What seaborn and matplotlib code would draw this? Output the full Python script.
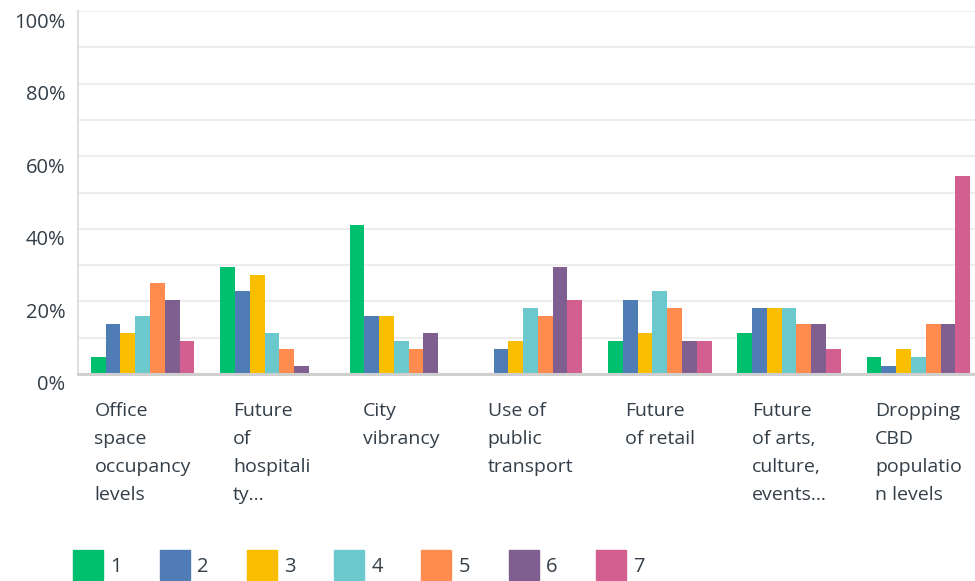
import numpy as np
import pandas as pd
import seaborn as sns
import matplotlib.pyplot as plt
from matplotlib.lines import Line2D
from matplotlib.transforms import ScaledTranslation

categories = ["Office\nspace\noccupancy\nlevels", "Future\nof\nhospitali\nty...", "City\nvibrancy",
              "Use of\npublic\ntransport", "Future\nof retail", "Future\nof arts,\nculture,\nevents...",
              "Dropping\nCBD\npopulatio\nn levels"]
ranks = ["1", "2", "3", "4", "5", "6", "7"]
rank1 = [4.55, 29.55, 40.91, 0.00, 9.09, 11.36, 4.55]
rank2 = [13.64, 22.73, 15.91, 6.82, 20.45, 18.18, 2.27]
rank3 = [11.36, 27.27, 15.91, 9.09, 11.36, 18.18, 6.82]
rank4 = [15.91, 11.36, 9.09, 18.18, 22.73, 18.18, 4.55]
rank5 = [25.00, 6.82, 6.82, 15.91, 18.18, 13.64, 13.64]
rank6 = [20.45, 2.27, 11.36, 29.55, 9.09, 13.64, 13.64]
rank7 = [9.09, 0.00, 0.00, 20.45, 9.09, 6.82, 54.55]
colors = ["#00bf6f", "#507cb6", "#f9be00", "#6bc8cd", "#ff8b4f", "#7f5f90", "#d25f90"]

series = [rank1, rank2, rank3, rank4, rank5, rank6, rank7]
rows = []
for r, vals in zip(ranks, series):
    for c, v in zip(categories, vals):
        rows.append({"category": c, "rank": r, "value": v})
df = pd.DataFrame(rows)

sns.set_theme(style="white")
plt.rcParams['font.family'] = ['Open Sans', 'DejaVu Sans']
text_color = "#333e48"

fig = plt.figure(figsize=(9.75, 5.81), dpi=100)
ax = fig.add_axes([78 / 975, 1 - 374 / 581, 905 / 975, 363 / 581])

sns.barplot(data=df, x="category", y="value", hue="rank", order=categories,
            hue_order=ranks, palette=colors, width=0.8, saturation=1,
            linewidth=0, ax=ax, legend=False)

ax.set_xlim(-0.5, 6.5)
ax.set_ylim(0, 100)
ax.set_yticks([0, 20, 40, 60, 80, 100])
ax.set_yticks([10, 30, 50, 70, 90], minor=True)
ax.set_yticklabels(["0%", "20%", "40%", "60%", "80%", "100%"])
ax.grid(True, axis="y", which="both", color="#ededed", linewidth=1.5, zorder=0)
ax.set_axisbelow(True)
ax.set_xlabel("")
ax.set_ylabel("")

for s in ["top", "right"]:
    ax.spines[s].set_visible(False)
ax.spines["left"].set_color("#d9d9d9")
ax.spines["left"].set_linewidth(1.2)
ax.spines["bottom"].set_color("#cfcfcf")
ax.spines["bottom"].set_linewidth(2.2)

ax.tick_params(axis="y", which="both", length=0, pad=9, labelsize=14.5, labelcolor=text_color)
ax.tick_params(axis="x", length=0, pad=20, labelsize=14, labelcolor=text_color)
offset = ScaledTranslation(0, -0.09, fig.dpi_scale_trans)
for t in ax.get_yticklabels():
    t.set_transform(t.get_transform() + offset)
for t in ax.get_xticklabels():
    t.set_multialignment("left")
    t.set_linespacing(1.72)
    t.set_verticalalignment("top")

handles = [Line2D([0], [0], marker="s", linestyle="none", markersize=21,
                  markerfacecolor=c, markeredgecolor=c) for c in colors]
fig.legend(handles, ranks, loc="center left", bbox_to_anchor=(67 / 975, 1 - 567 / 581),
           ncol=7, frameon=False, fontsize=14.5, labelcolor=text_color,
           handlelength=1.3, handletextpad=0.45, columnspacing=2.0, borderaxespad=0)

fig.savefig("out.png", dpi=100)
